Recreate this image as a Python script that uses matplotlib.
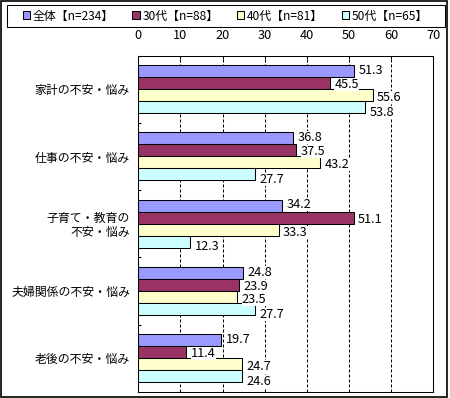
import matplotlib
matplotlib.use('Agg')
import matplotlib.pyplot as plt
from matplotlib.patches import Rectangle
import numpy as np

plt.rcParams['font.family'] = ['Noto Sans CJK JP', 'DejaVu Sans']

categories = ['家計の不安・悩み', '仕事の不安・悩み', '子育て・教育の\n不安・悩み',
              '夫婦関係の不安・悩み', '老後の不安・悩み']
series_names = ['全体【n=234】', '30代【n=88】', '40代【n=81】', '50代【n=65】']
v_all = [51.3, 36.8, 34.2, 24.8, 19.7]
v_30 = [45.5, 37.5, 51.1, 23.9, 11.4]
v_40 = [55.6, 43.2, 33.3, 23.5, 24.7]
v_50 = [53.8, 27.7, 12.3, 27.7, 24.6]
x_ticks = [0, 10, 20, 30, 40, 50, 60, 70]
colors = ['#9999FF', '#993366', '#FFFFCC', '#CCFFFF']

W, H = 450, 398
fig = plt.figure(figsize=(4.5, 3.98), dpi=100)
ax = fig.add_axes([138.3 / W, 1 - 392 / H, (433.3 - 138.3) / W, (392 - 55.5) / H])
fs = 8.6
fs_num = 9.2
y = np.arange(len(categories))
h = 0.178
series = [v_all, v_30, v_40, v_50]
label_dy = [-1, 1.5, 2.5, 5]  # px downward shift of value labels per series

handles = []
for i, (vals, name, c) in enumerate(zip(series, series_names, colors)):
    pos = y + (i - 1.5) * h
    bars = ax.barh(pos, vals, height=h, color=c, edgecolor='black', linewidth=0.75,
                   label=name, zorder=2)
    handles.append(bars)
    for b, v in zip(bars, vals):
        ax.annotate(f'{v:.1f}', xy=(b.get_width(), b.get_y() + b.get_height() / 2),
                    xytext=(3.2, -label_dy[i] * 0.72), textcoords='offset points',
                    ha='left', va='center', fontsize=fs_num, zorder=4,
                    bbox=dict(boxstyle='square,pad=0.0', fc='white', ec='none'))

ax.set_xlim(0, 70)
ax.set_ylim(len(categories) - 0.5, -0.5)
ax.xaxis.tick_top()
ax.set_xticks(x_ticks)
ax.set_xticklabels([str(t) for t in x_ticks])
ax.tick_params(axis='x', direction='in', length=2.2, width=0.75, pad=10, labelsize=fs_num,
               colors='black')
ax.xaxis.grid(True, color='black', linestyle=(0, (2.9, 1.9)), linewidth=0.75)
ax.set_axisbelow(True)

ax.set_yticks(np.arange(len(categories) + 1) - 0.5)
ax.set_yticklabels([])
ax.set_yticks(y, categories, minor=True)
ax.tick_params(axis='y', which='major', direction='in', length=2.2, width=0.75)
ax.tick_params(axis='y', which='minor', length=0, pad=6, labelsize=fs)
for lbl in ax.get_yticklabels(minor=True):
    lbl.set_multialignment('right')
    lbl.set_linespacing(1.1)

for s in ax.spines.values():
    s.set_color('black')
    s.set_linewidth(0.75)
    s.set_zorder(3)

fig.legend(handles=handles, labels=series_names, loc='center left',
           bbox_to_anchor=(18 / W, 1 - 27 / H, (433 - 18) / W, 22 / H),
           mode='expand', ncol=4, frameon=False, borderaxespad=0,
           handlelength=0.6, handleheight=0.6, handletextpad=0.25, fontsize=fs,
           borderpad=0.4)

fig.patches.append(Rectangle((6.7 / W, 1 - 27 / H), (445 - 6.7) / W, 22 / H,
                             transform=fig.transFigure, fill=False, ec='black', lw=0.75))
fig.patches.append(Rectangle((1 / W, 1 - 396.5 / H), (446.5 - 1) / W, 395.5 / H,
                             transform=fig.transFigure, fill=False, ec='black', lw=1.2))

fig.savefig('out.png', dpi=100)
